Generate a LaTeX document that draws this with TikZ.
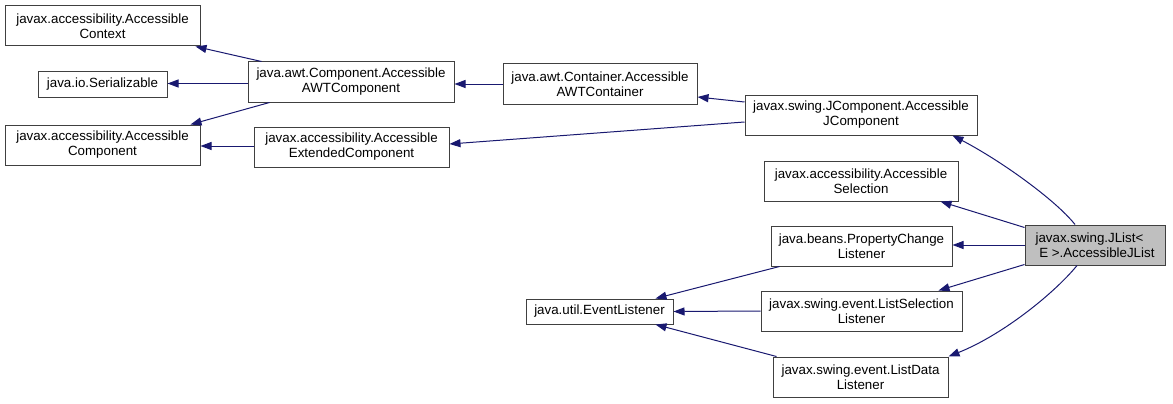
\documentclass[tikz,border=0pt]{standalone}
\usepackage{fontspec}
\setmainfont{Liberation Sans}
\usetikzlibrary{arrows.meta,calc}
\definecolor{edgeblue}{HTML}{191970}
\definecolor{boxline}{HTML}{404040}
\definecolor{hlfill}{HTML}{BFBFBF}
\begin{document}
\begin{tikzpicture}[x=0.75pt,y=-0.75pt,
  box/.style={draw=boxline,line width=0.75pt,fill=white,inner sep=0pt,align=center,
    font=\fontsize{10}{11.25}\selectfont},
  inh/.style={draw=edgeblue,line width=0.75pt,-{Triangle[length=8.25pt,width=6pt,fill=edgeblue]}}]
\useasboundingbox (0,0) rectangle (1173,403);
% nodes
\node[box,minimum width=146.25pt,minimum height=30pt] (ctx) at (102.5,26) {javax.accessibility.Accessible\\Context};
\node[box,minimum width=96.75pt,minimum height=18.75pt] (ser) at (102.5,84.5) {java.io.Serializable};
\node[box,minimum width=146.25pt,minimum height=30pt] (comp) at (102.5,145) {javax.accessibility.Accessible\\Component};
\node[box,minimum width=154.5pt,minimum height=30pt] (awt) at (351,82) {java.awt.Component.Accessible\\AWTComponent};
\node[box,minimum width=146.25pt,minimum height=30pt] (ext) at (351.5,147) {javax.accessibility.Accessible\\ExtendedComponent};
\node[box,minimum width=145.5pt,minimum height=30pt] (cont) at (600,84) {java.awt.Container.Accessible\\AWTContainer};
\node[box,minimum width=174pt,minimum height=30pt] (jcomp) at (861,115) {javax.swing.JComponent.Accessible\\JComponent};
\node[box,minimum width=145.5pt,minimum height=30pt] (sel) at (861,181) {javax.accessibility.Accessible\\Selection};
\node[box,minimum width=135.75pt,minimum height=30pt] (pcl) at (861.5,246) {java.beans.PropertyChange\\Listener};
\node[box,minimum width=110.25pt,minimum height=18.75pt] (evl) at (599.5,311.5) {java.util.EventListener};
\node[box,minimum width=150.75pt,minimum height=30pt] (lsl) at (861.5,311) {javax.swing.event.ListSelection\\Listener};
\node[box,minimum width=131.25pt,minimum height=30pt] (ldl) at (860.5,377) {javax.swing.event.ListData\\Listener};
\node[box,fill=hlfill,align=left,minimum width=105pt,minimum height=30pt] (jlist) at (1095,245) {javax.swing.JList<\\~E >.AccessibleJList};
% edges
\draw[inh] ($(awt.north west)+(14,0)$) -- ($(ctx.south east)+(-5,0)$);
\draw[inh] ($(awt.west)+(0,1.5)$) -- ($(ser.east)+(0,-1)$);
\draw[inh] ($(awt.south west)+(22,0)$) -- ($(comp.north east)+(-10,0)$);
\draw[inh] ($(ext.west)+(0,-1)$) -- ($(comp.east)+(0,1)$);
\draw[inh] (cont.west) -- ($(awt.east)+(0,2)$);
\draw[inh] ($(jcomp.west)+(0,-13)$) -- ($(cont.east)+(0,13)$);
\draw[inh] ($(jcomp.west)+(0,7)$) -- ($(ext.east)+(0,-3)$);
\draw[inh] ($(jlist.north)+(-20,0)$) .. controls +(-20,-25) and +(48,25) .. ($(jcomp.south east)+(-25,0)$);
\draw[inh] ($(jlist.north west)+(0,3)$) -- ($(sel.south east)+(-18,0)$);
\draw[inh] (jlist.west) -- (jlist.west -| pcl.east);
\draw[inh] ($(jlist.south west)+(0,-1)$) -- ($(lsl.north east)+(-24,0)$);
\draw[inh] ($(jlist.south)+(-18,0)$) .. controls +(-22,27) and +(55,-22) .. (ldl.north east);
\draw[inh] ($(pcl.south west)+(9,0)$) -- ($(evl.north east)+(-18,0)$);
\draw[inh] (lsl.west) -- (evl.east);
\draw[inh] ($(ldl.north west)+(4,0)$) -- ($(evl.south east)+(-18,0)$);
\end{tikzpicture}
\end{document}
